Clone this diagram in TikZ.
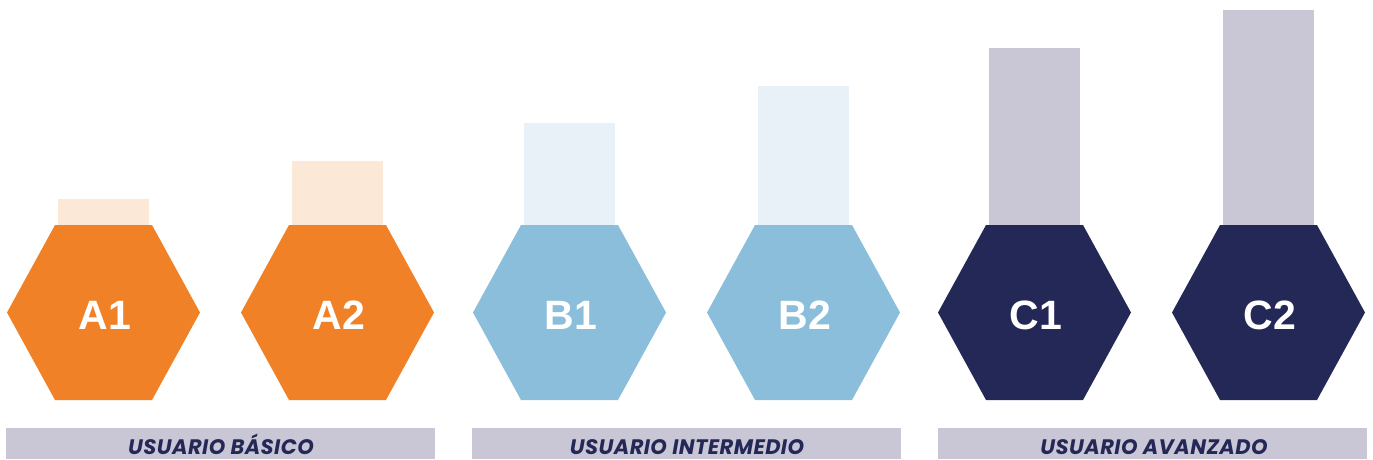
\documentclass[tikz,border=0pt]{standalone}
\usepackage{fontspec}
\setmainfont{Liberation Sans}
\newfontfamily\lblfont[LetterSpace=2]{Poppins}
\definecolor{orangeA}{HTML}{F08127}
\definecolor{orangeL}{HTML}{FCE8D6}
\definecolor{blueB}{HTML}{8ABEDB}
\definecolor{blueL}{HTML}{E8F0F8}
\definecolor{navyC}{HTML}{242857}
\definecolor{navyL}{HTML}{C9C6D6}
\tikzset{
  hexlabel/.style={text=white,font=\fontsize{41}{41}\selectfont\bfseries,anchor=base,inner sep=0pt},
  grouplabel/.style={text=navyC,font=\lblfont\fontsize{21}{21}\selectfont\bfseries\itshape,anchor=base,inner sep=0pt},
  pics/level/.style n args={5}{code={
    \fill[#2] (-45.5,-#3) rectangle (45.5,-225);
    \fill[#1] (-96.5,-312.5) -- (-48.5,-225) -- (48.5,-225) -- (96.5,-312.5) -- (48.5,-400) -- (-48.5,-400) -- cycle;
    \node[hexlabel] (#5) at (1.5,-329) {#4};
  }}
}
\begin{document}
\begin{tikzpicture}[x=1pt,y=1pt]
\useasboundingbox (0,0) rectangle (1373,-459);
\pic at (103.5,0) {level={orangeA}{orangeL}{199}{A1}{a1}};
\pic at (337.5,0) {level={orangeA}{orangeL}{161}{A2}{a2}};
\pic at (569.5,0) {level={blueB}{blueL}{123}{B1}{b1}};
\pic at (803.5,0) {level={blueB}{blueL}{86}{B2}{b2}};
\pic at (1034.5,0) {level={navyC}{navyL}{48}{C1}{c1}};
\pic at (1268.5,0) {level={navyC}{navyL}{10}{C2}{c2}};
\fill[navyL] (6,-428) rectangle (435,-459);
\fill[navyL] (472,-428) rectangle (901,-459);
\fill[navyL] (938,-428) rectangle (1367,-459);
\node[grouplabel] (g1) at (221,-454) {USUARIO BÁSICO};
\node[grouplabel] (g2) at (687,-454) {USUARIO INTERMEDIO};
\node[grouplabel] (g3) at (1154,-454) {USUARIO AVANZADO};
\end{tikzpicture}
\end{document}
